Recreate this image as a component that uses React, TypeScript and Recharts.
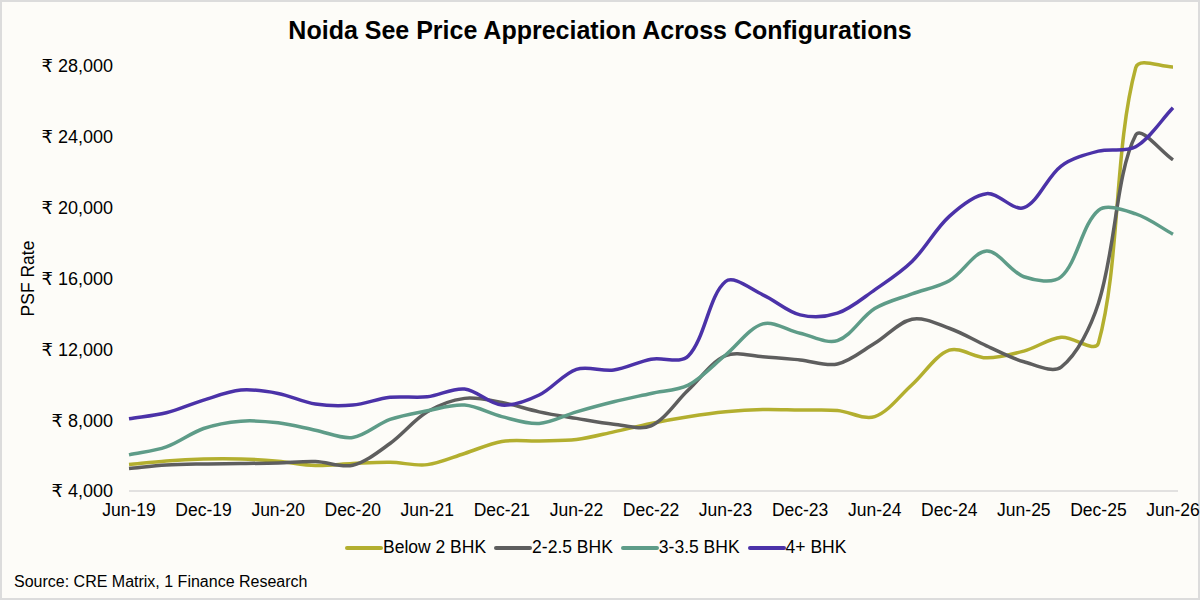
import { LineChart, Line, XAxis, YAxis, Legend } from 'recharts'

const periods = [
  'Jun-19', 'Sep-19', 'Dec-19', 'Mar-20', 'Jun-20', 'Sep-20', 'Dec-20', 'Mar-21',
  'Jun-21', 'Sep-21', 'Dec-21', 'Mar-22', 'Jun-22', 'Sep-22', 'Dec-22', 'Mar-23',
  'Jun-23', 'Sep-23', 'Dec-23', 'Mar-24', 'Jun-24', 'Sep-24', 'Dec-24', 'Mar-25',
  'Jun-25', 'Sep-25', 'Dec-25', 'Mar-26', 'Jun-26',
]

const below2Bhk = [
  5490, 5700, 5810, 5810, 5680, 5440, 5550, 5620,
  5490, 6120, 6800, 6830, 6910, 7340, 7815, 8190,
  8470, 8600, 8570, 8550, 8200, 10000, 11950, 11520,
  11900, 12680, 12350, 27900, 27950,
]

const bhk2to25 = [
  5270, 5470, 5530, 5550, 5585, 5660, 5455, 6680,
  8470, 9230, 9000, 8470, 8100, 7775, 7680, 9700,
  11640, 11585, 11400, 11170, 12340, 13700, 13190, 12200,
  11300, 11000, 14600, 24100, 22700,
]

const bhk3to35 = [
  6040, 6490, 7530, 7945, 7850, 7435, 7020, 8040,
  8530, 8850, 8200, 7815, 8470, 9040, 9510, 9980,
  11680, 13435, 12910, 12490, 14300, 15130, 15870, 17550,
  16100, 16100, 19850, 19650, 18500,
]

const bhk4Plus = [
  8075, 8415, 9130, 9700, 9510, 8910, 8850, 9290,
  9320, 9760, 8850, 9420, 10870, 10830, 11440, 11620,
  15830, 15080, 13945, 14040, 15360, 16960, 19510, 20790,
  20000, 22350, 23190, 23440, 25640,
]

const seriesNames = ['Below 2 BHK', '2-2.5 BHK', '3-3.5 BHK', '4+ BHK']

const yTicks = [4000, 8000, 12000, 16000, 20000, 24000, 28000]

const data = periods.map((period, i) => ({
  period,
  below2: below2Bhk[i],
  b2: bhk2to25[i],
  b3: bhk3to35[i],
  b4: bhk4Plus[i],
}))

const FONT = "'Liberation Sans', Arial, 'DejaVu Sans', sans-serif"

// smoothing close to Excel's: bezier handles scaled by neighbouring segment lengths
const TENSION = 1 / 3
function excelSmooth(context: any) {
  let pts: number[][] = []
  return {
    areaStart() {},
    areaEnd() {},
    lineStart() {
      pts = []
    },
    point(x: number, y: number) {
      pts.push([+x, +y])
    },
    lineEnd() {
      const n = pts.length
      if (!n) return
      context.moveTo(pts[0][0], pts[0][1])
      if (n === 1) return
      const hin: number[][] = []
      const hout: number[][] = []
      for (let i = 0; i < n; i++) {
        const p0 = pts[Math.max(i - 1, 0)]
        const p1 = pts[i]
        const p2 = pts[Math.min(i + 1, n - 1)]
        const d01 = Math.hypot(p1[0] - p0[0], p1[1] - p0[1])
        const d12 = Math.hypot(p2[0] - p1[0], p2[1] - p1[1])
        const s = d01 + d12 || 1
        const fa = (TENSION * d01) / s
        const fb = (TENSION * d12) / s
        hin[i] = [p1[0] - fa * (p2[0] - p0[0]), p1[1] - fa * (p2[1] - p0[1])]
        hout[i] = [p1[0] + fb * (p2[0] - p0[0]), p1[1] + fb * (p2[1] - p0[1])]
      }
      for (let i = 0; i < n - 1; i++) {
        context.bezierCurveTo(
          hout[i][0], hout[i][1],
          hin[i + 1][0], hin[i + 1][1],
          pts[i + 1][0], pts[i + 1][1],
        )
      }
    },
  }
}

function fmtRupee(v: number): string {
  return `₹ ${v.toLocaleString('en-US')}`
}

function LegendRow(props: any) {
  const items = [...(props.payload || [])].sort(
    (a: any, b: any) => seriesNames.indexOf(a.value) - seriesNames.indexOf(b.value),
  )
  return (
    <div style={{ display: 'flex', alignItems: 'center', fontFamily: FONT, fontSize: 17.5, color: '#000' }}>
      {items.map((p: any) => (
        <div key={p.value} style={{ display: 'flex', alignItems: 'center', marginRight: 8 }}>
          <span style={{ display: 'inline-block', width: 38, height: 4, borderRadius: 2, background: p.color }} />
          <span>{p.value}</span>
        </div>
      ))}
    </div>
  )
}

function YLabel(props: any) {
  const vb = props.viewBox || { x: 0, y: 0, width: 0, height: 0 }
  const cx = vb.x + 28
  const cy = vb.y + vb.height / 2
  return (
    <text
      x={cx}
      y={cy}
      transform={`rotate(-90 ${cx} ${cy})`}
      textAnchor="middle"
      dominantBaseline="central"
      fontFamily={FONT}
      fontSize={17.5}
      fill="#000"
    >
      PSF Rate
    </text>
  )
}

export default function App() {
  return (
    <div
      style={{
        position: 'absolute',
        left: 0,
        top: 0,
        width: 1200,
        height: 600,
        background: '#FDFCF8',
        border: '2px solid #dcdcdc',
        boxSizing: 'border-box',
        fontFamily: FONT,
      }}
    >
      <div
        style={{
          position: 'absolute',
          left: 0,
          top: 13,
          width: 1196,
          textAlign: 'center',
          fontSize: 25,
          fontWeight: 'bold',
          color: '#000',
          lineHeight: '30px',
        }}
      >
        Noida See Price Appreciation Across Configurations
      </div>
      <div style={{ position: 'absolute', left: -2, top: -2 }}>
        <LineChart width={1200} height={600} data={data} margin={{ top: 66, right: 22, bottom: 79, left: 0 }}>
          <XAxis
            dataKey="period"
            interval={1}
            tickLine={false}
            tickSize={0}
            tickMargin={13}
            height={30}
            padding={{ left: 0, right: 5 }}
            axisLine={{ stroke: '#d9d9d9', strokeWidth: 1.5 }}
            tick={{ fontSize: 17.5, fill: '#000', fontFamily: FONT }}
          />
          <YAxis
            width={129}
            domain={[4000, 28000]}
            ticks={yTicks}
            tickFormatter={fmtRupee}
            tickLine={false}
            axisLine={false}
            tickSize={0}
            tickMargin={16}
            tick={{ fontSize: 18, fill: '#000', fontFamily: FONT }}
            label={{ content: YLabel }}
          />
          <Legend
            verticalAlign="middle"
            align="center"
            content={LegendRow}
            wrapperStyle={{ left: 345, top: 537, width: 'auto' }}
          />
          <Line type={excelSmooth as any} dataKey="below2" name={seriesNames[0]} stroke="#B3AF2F" strokeWidth={3.5} dot={false} isAnimationActive={false} />
          <Line type={excelSmooth as any} dataKey="b2" name={seriesNames[1]} stroke="#5E5E5E" strokeWidth={3.5} dot={false} isAnimationActive={false} />
          <Line type={excelSmooth as any} dataKey="b3" name={seriesNames[2]} stroke="#5E9C88" strokeWidth={3.5} dot={false} isAnimationActive={false} />
          <Line type={excelSmooth as any} dataKey="b4" name={seriesNames[3]} stroke="#4B32A8" strokeWidth={3.5} dot={false} isAnimationActive={false} />
        </LineChart>
      </div>
      <div style={{ position: 'absolute', left: 12, top: 571, fontSize: 16, color: '#000' }}>
        Source: CRE Matrix, 1 Finance Research
      </div>
    </div>
  )
}
